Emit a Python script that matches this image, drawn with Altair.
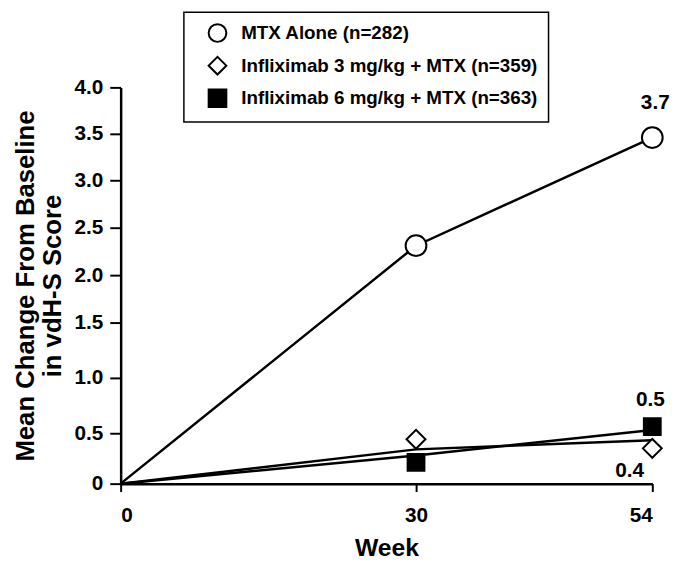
import altair as alt
import pandas as pd

# ---- data ----
weeks = [0, 30, 54]
series = [
    "MTX Alone (n=282)",
    "Infliximab 3 mg/kg + MTX (n=359)",
    "Infliximab 6 mg/kg + MTX (n=363)",
]
# connecting lines (as drawn)
line_mtx = [0.0, 2.31, 3.46]
line_3mg = [0.0, 0.34, 0.43]
line_6mg = [0.0, 0.28, 0.53]
# plotted symbols (as drawn)
mark_weeks = [30, 54]
mark_mtx = [2.31, 3.46]
mark_3mg = [0.44, 0.35]
mark_6mg = [0.21, 0.56]
# value annotations at week 54
ann_series = series
ann_text = ["3.7", "0.4", "0.5"]
y_ticks = [0, 0.5, 1.0, 1.5, 2.0, 2.5, 3.0, 3.5, 4.0]
x_ticks = [0, 30, 54]

FONT = "Liberation Sans"

lines_df = pd.DataFrame(
    [(s, w, v) for s, vals in zip(series, [line_mtx, line_3mg, line_6mg]) for w, v in zip(weeks, vals)],
    columns=["series", "week", "value"],
)
marks_df = pd.DataFrame(
    [(s, w, v) for s, vals in zip(series, [mark_mtx, mark_3mg, mark_6mg]) for w, v in zip(mark_weeks, vals)],
    columns=["series", "week", "value"],
)
ann_df = pd.DataFrame({
    "series": ann_series,
    "week": [54, 54, 54],
    "value": [mark_mtx[-1], mark_3mg[-1], mark_6mg[-1]],
    "text": ann_text,
})

# the reference axis is hand-spaced: piecewise scale through its tick marks
yscale = alt.Scale(domain=y_ticks, range=[401, 350, 294, 238, 190, 142, 94, 47, 0], zero=False, nice=False)
xscale = alt.Scale(domain=[0, 54], nice=False, zero=False)

x_enc = alt.X("week:Q", scale=xscale,
              axis=alt.Axis(values=x_ticks, title="Week", format="d", tickSize=8,
                            labelPadding=13, titlePadding=11, titleFontSize=25))
y_enc = alt.Y("value:Q", scale=yscale,
              axis=alt.Axis(values=y_ticks, title=["Mean Change From Baseline", "in vdH-S Score"],
                            labelExpr="datum.value == 0 ? '0' : format(datum.value, '.1f')",
                            tickSize=11, labelPadding=7, titlePadding=9,
                            titleFontSize=26, titleLineHeight=27))

lines = alt.Chart(lines_df).mark_line(color="black", strokeWidth=2.5).encode(
    x=x_enc, y=y_enc, detail="series:N"
)

legend = alt.Legend(
    title=None, orient="none", legendX=64, legendY=-76,
    strokeColor="black", padding=11, fillColor="white",
    labelFont=FONT, labelFontSize=19, labelFontWeight="bold", labelColor="black",
    labelLimit=500, labelOffset=14, rowPadding=7, symbolOffset=13,
    symbolSize=320, symbolStrokeColor="black", symbolStrokeWidth=2,
)

# size scale domain listed in another order so its (hidden) legend is not merged with the visible one
size_domain = [series[2], series[1], series[0]]
points = alt.Chart(marks_df).mark_point(filled=True, strokeWidth=2, opacity=1).encode(
    x=alt.X("week:Q", scale=xscale),
    y=alt.Y("value:Q", scale=yscale),
    shape=alt.Shape("series:N", scale=alt.Scale(domain=series, range=["circle", "diamond", "square"]), legend=legend),
    fill=alt.Fill("series:N", scale=alt.Scale(domain=series, range=["white", "white", "black"]), legend=legend),
    stroke=alt.Stroke("series:N", scale=alt.Scale(domain=series, range=["black", "black", "black"]), legend=legend),
    size=alt.Size("series:N", scale=alt.Scale(domain=size_domain, range=[289, 441, 324]), legend=None),
)

offsets = [(3, -35), (-23, 23), (-2, -27)]
ann_layers = []
for s, (dx, dy) in zip(series, offsets):
    ann_layers.append(
        alt.Chart(ann_df).transform_filter(alt.datum.series == s)
        .mark_text(font=FONT, fontSize=21, fontWeight="bold", color="black", dx=dx, dy=dy)
        .encode(x=alt.X("week:Q", scale=xscale), y=alt.Y("value:Q", scale=yscale), text="text:N")
    )

chart = alt.layer(lines, points, *ann_layers).properties(
    width=538, height=401,
    autosize=alt.AutoSizeParams(type="none"),
    padding={"left": 114, "top": 77, "right": 25, "bottom": 80},
).configure_view(stroke=None).configure_axis(
    grid=False, domainColor="black", domainWidth=2.5, tickColor="black", tickWidth=2,
    labelFont=FONT, labelFontSize=21, labelFontWeight="bold", labelColor="black",
    titleFont=FONT, titleFontWeight="bold", titleColor="black",
).configure_legend(strokeWidth=1.5)

chart.save("out.html", embed_options={"renderer": "svg", "actions": False})
